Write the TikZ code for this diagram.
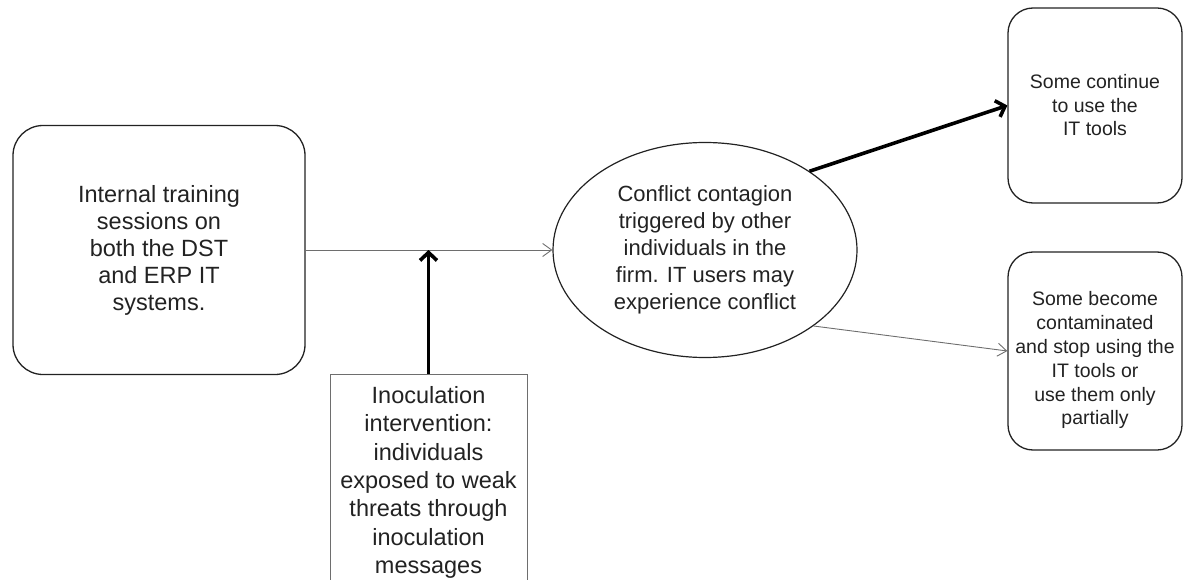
\documentclass[tikz,border=0pt]{standalone}
\usepackage{fontspec}
\setmainfont{Liberation Sans}
\usetikzlibrary{shapes.geometric,arrows.meta}
\definecolor{inkgray}{HTML}{222222}
\definecolor{linegray}{HTML}{6E6E6E}

\begin{document}
\begin{tikzpicture}[x=1pt, y=-1pt,
	roundbox/.style={draw=inkgray, line width=1.3pt, rounded corners=#1, align=center, text=inkgray, inner sep=0pt},
	roundbox/.default=30pt,
	thinarrow/.style={draw=linegray, line width=0.9pt, -{Straight Barb[length=9pt, width=13pt]}},
	thickarrow/.style={draw=black, line width=3.6pt, -{Straight Barb[length=8pt, width=17pt]}}]
	\useasboundingbox (0,0) rectangle (1183,580);
	\clip (0,0) rectangle (1183,580);
	\node[roundbox=30pt, minimum width=292pt, minimum height=249pt, font=\fontsize{23.5}{27}\selectfont] (train) at (159,250) {Internal training\\sessions on\\both the DST\\and ERP IT\\systems.};
	\node[ellipse, draw=inkgray, line width=1.2pt, align=center, text=inkgray, inner sep=0pt, minimum width=304pt, minimum height=215pt, font=\fontsize{22}{27}\selectfont] (conflict) at (705,250) {Conflict contagion\\triggered by other\\individuals in the\\firm. IT users may\\experience conflict};
	\node[roundbox=25pt, minimum width=174pt, minimum height=195pt, font=\fontsize{19.5}{23.5}\selectfont] (cont) at (1095,105.5) {Some continue\\to use the\\IT tools};
	\node[roundbox=25pt, minimum width=174pt, minimum height=198pt, text height=152pt, font=\fontsize{19.5}{23.8}\selectfont] (stop) at (1095,351) {Some become\\contaminated\\and stop using the\\IT tools or\\use them only\\partially};
	\node[draw=linegray, line width=1pt, align=center, text=inkgray, inner sep=0pt, minimum width=197pt, minimum height=216pt, anchor=north, font=\fontsize{23.5}{28.3}\selectfont] (inoc) at (428.5,374) {Inoculation\\intervention:\\individuals\\exposed to weak\\threats through\\inoculation\\messages};
	\coordinate (hit) at (inoc.north |- train.east);
	\draw[thinarrow] (train.east) -- (conflict.west);
	\draw[thickarrow] (inoc.north) -- (hit);
	\draw[thickarrow] (conflict.37) -- (cont.west);
	\draw[thinarrow] (conflict.-35) -- (stop.west);
\end{tikzpicture}
\end{document}
